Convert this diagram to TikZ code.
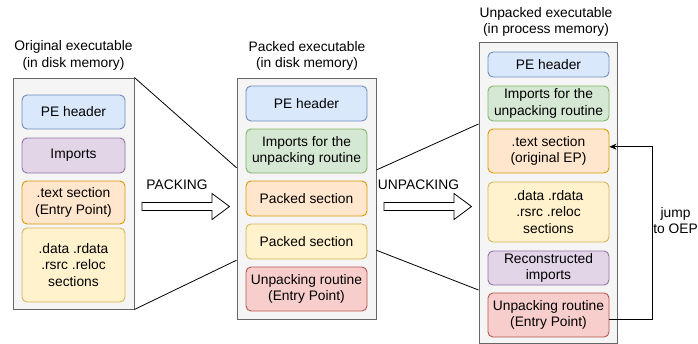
\documentclass[tikz,border=0pt]{standalone}
\usepackage{fontspec}
\setmainfont{Liberation Sans}
\usetikzlibrary{calc,arrows.meta}
\definecolor{contfill}{HTML}{F5F5F5}
\definecolor{contdraw}{HTML}{666666}
\definecolor{bluefill}{HTML}{DAE8FC}\definecolor{bluedraw}{HTML}{6C8EBF}
\definecolor{purpfill}{HTML}{E1D5E7}\definecolor{purpdraw}{HTML}{9673A6}
\definecolor{orfill}{HTML}{FFE6CC}\definecolor{ordraw}{HTML}{D79B00}
\definecolor{yelfill}{HTML}{FFF2CC}\definecolor{yeldraw}{HTML}{D6B656}
\definecolor{grfill}{HTML}{D5E8D4}\definecolor{grdraw}{HTML}{82B366}
\definecolor{redfill}{HTML}{F8CECC}\definecolor{reddraw}{HTML}{B85450}
\tikzset{
  txt/.style={font=\fontsize{13.8pt}{16.5pt}\selectfont, align=center, inner sep=0pt},
  cont/.style={draw=contdraw, fill=contfill, line width=0.9pt, inner sep=0pt},
  bx/.style={txt, rounded corners=5pt, line width=0.9pt},
  blue/.style={bx, fill=bluefill, draw=bluedraw},
  purp/.style={bx, fill=purpfill, draw=purpdraw},
  oran/.style={bx, fill=orfill, draw=ordraw},
  yel/.style={bx, fill=yelfill, draw=yeldraw},
  gre/.style={bx, fill=grfill, draw=grdraw},
  red/.style={bx, fill=redfill, draw=reddraw},
  lnk/.style={draw=black, line width=0.8pt},
  blockarrow/.style={draw=black, fill=white, line width=0.8pt},
}
\begin{document}
\begin{tikzpicture}[x=1pt,y=-1pt]
\useasboundingbox (0,0) rectangle (698,343);

% titles
\node[txt] (t1) at (73.5,55.5) {Original executable\\(in disk memory)};
\node[txt] (t2) at (307,56) {Packed executable\\(in disk memory)};
\node[txt] (t3) at (546,22) {Unpacked executable\\(in process memory)};

% containers
\node[cont, minimum width=121pt, minimum height=231pt] (c1) at (73.5,193.5) {};
\node[cont, minimum width=139pt, minimum height=241pt] (c2) at (306.5,198.5) {};
\node[cont, minimum width=138pt, minimum height=301pt] (c3) at (548,192.5) {};

% left boxes
\begin{scope}[every node/.append style={minimum width=103pt}]
\node[blue, minimum height=34pt] (a1) at (73.5,112) {PE header};
\node[purp, minimum height=35pt] (a2) at (73.5,155.5) {Imports};
\node[oran, minimum height=43pt] (a3) at (73.5,202.5) {.text section\\(Entry Point)};
\node[yel, minimum height=74pt] (a4) at (73.5,265) {.data .rdata\\.rsrc .reloc\\sections};
\end{scope}

% middle boxes
\begin{scope}[every node/.append style={minimum width=121pt}]
\node[blue, minimum height=35pt] (b1) at (306.5,103.5) {PE header};
\node[gre, minimum height=44pt] (b2) at (306.5,151) {Imports for the\\unpacking routine};
\node[oran, minimum height=35pt] (b3) at (306.5,198.5) {Packed section};
\node[yel, minimum height=35pt] (b4) at (306.5,241.5) {Packed section};
\node[red, minimum height=44pt] (b5) at (306.5,289) {Unpacking routine\\(Entry Point)};
\end{scope}

% right boxes
\begin{scope}[every node/.append style={minimum width=121pt}]
\node[blue, minimum height=25pt] (d1) at (548.5,64.5) {PE header};
\node[gre, minimum height=35pt] (d2) at (548.5,103.5) {Imports for the\\unpacking routine};
\node[oran, minimum height=44pt] (d3) at (548.5,151) {.text section\\(original EP)};
\node[yel, minimum height=60pt] (d4) at (548.5,212) {.data .rdata\\.rsrc .reloc\\sections};
\node[purp, minimum height=34pt] (d5) at (548.5,268) {Reconstructed\\imports};
\node[red, minimum height=44pt] (d6) at (548.5,315) {Unpacking routine\\(Entry Point)};
\end{scope}

% zoom lines
\draw[lnk] (c1.north east) -- ($(c2.north west)!0.373!(c2.south west)$);
\draw[lnk] (c1.south east) -- ($(c2.north west)!0.755!(c2.south west)$);
\draw[lnk] ($(c2.north east)!0.382!(c2.south east)$) -- ($(c3.north west)!0.273!(c3.south west)$);
\draw[lnk] ($(c2.north east)!0.714!(c2.south east)$) -- ($(c3.north west)!0.823!(c3.south west)$);

% block arrows
\draw[blockarrow] (142,202.5) -- (212,202.5) -- (212,193.5) -- (229.5,206.5) -- (212,219.5) -- (212,210.5) -- (142,210.5) -- cycle;
\node[txt] (pk) at (177,185) {PACKING};
\draw[blockarrow] (384,202.5) -- (454,202.5) -- (454,193.5) -- (471.5,206.5) -- (454,219.5) -- (454,210.5) -- (384,210.5) -- cycle;
\node[txt] (upk) at (418.5,185) {UNPACKING};

% jump arrow
\coordinate (js) at ($(d6.east)+(0,4.3)$);
\coordinate (je) at ($(d3.east)+(0,-4.3)$);
\draw[lnk, -{Stealth[length=7pt,width=6pt]}] (js) -- (652,319.3) -- (652,146.7) -- (je);
\node[txt] (jl) at (675.5,220.5) {jump\\to OEP};
\end{tikzpicture}
\end{document}
